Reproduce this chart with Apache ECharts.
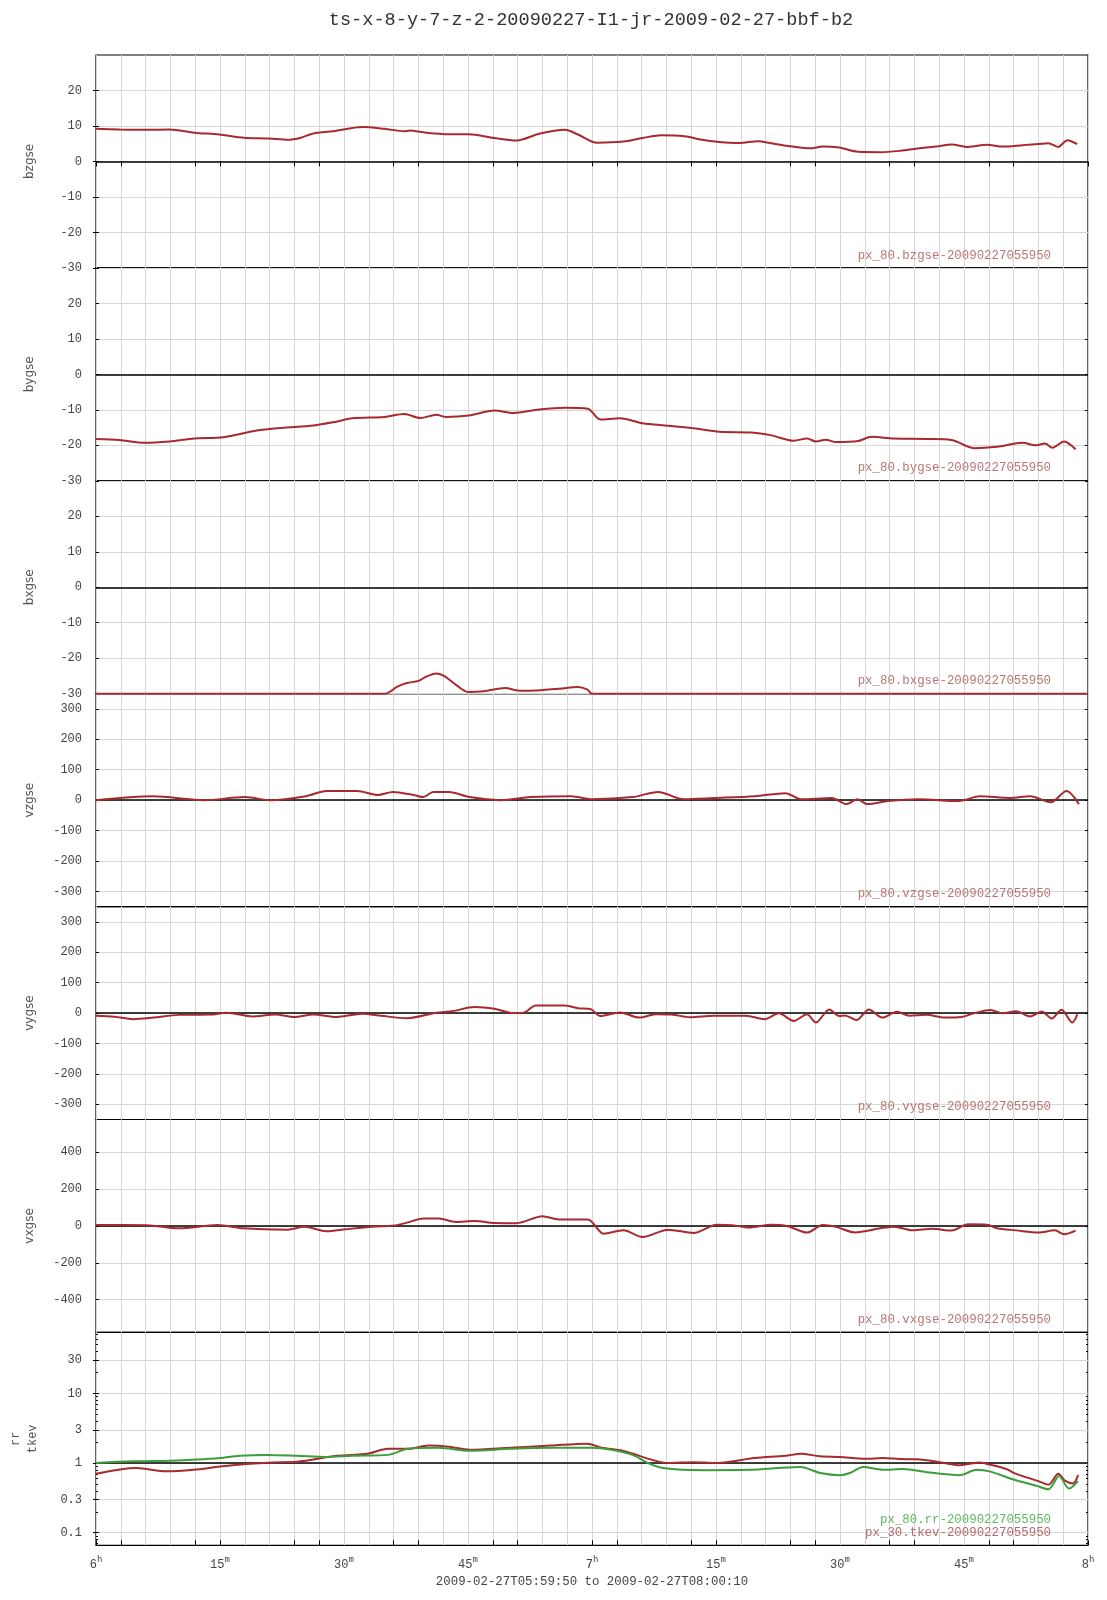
<!DOCTYPE html>
<html><head><meta charset="utf-8">
<script src="https://cdn.jsdelivr.net/npm/echarts@6/dist/echarts.min.js"></script>
<style>html,body{margin:0;padding:0;background:#fff}#c{width:1107px;height:1600px}</style>
</head><body><div id="c"></div>
<script>
// ---- data (time in minutes after 06:00 UT, 2009-02-27) ----
const bzT=[0,2.8,5.9,8.9,11.9,14.9,17.9,20.9,23.2,24.8,26.3,28.7,32.2,34.9,37.3,38.0,39.6,42.7,45.1,48.2,50.9,53.6,56.7,58.3,60.6,63.8,66.1,68.4,71.2,73.1,75.4,77.8,80.1,81.7,84.0,86.4,87.9,89.9,92.2,94.9,97.3,99.6,101.9,103.5,105.5,107.8,109.7,112.1,114.4,115.2,116.4,117.5,118.7];
const bzV=[9.2,9.0,8.9,9.0,8.1,7.6,6.7,6.5,6.1,6.7,7.9,8.5,9.7,9.2,8.5,8.7,8.2,7.7,7.7,6.6,5.9,7.8,8.9,7.6,5.3,5.6,6.6,7.4,7.1,6.2,5.5,5.2,5.7,5.1,4.3,3.7,4.2,3.9,2.7,2.6,3.0,3.7,4.3,4.8,4.1,4.7,4.2,4.6,5.0,5.1,4.1,6.0,4.9];
const byT=[0,2.8,5.9,8.9,11.9,15.4,19.3,22.4,26.3,28.7,31.0,34.9,37.3,39.2,41.2,42.3,45.1,48.2,50.5,53.6,56.7,59.5,61.0,63.4,66.1,69.2,72.3,75.4,79.3,81.7,84.4,86.0,87.1,88.3,89.5,92.2,93.8,96.5,100.4,103.5,106.2,109.0,112.1,113.6,114.8,115.7,117.1,118.5];
const byV=[-18.2,-18.5,-19.3,-18.9,-18.1,-17.7,-15.9,-15.1,-14.4,-13.5,-12.4,-12.0,-11.2,-12.3,-11.4,-12.0,-11.6,-10.2,-10.9,-9.9,-9.4,-9.7,-12.7,-12.4,-13.8,-14.5,-15.2,-16.2,-16.4,-17.2,-18.7,-18.1,-18.9,-18.4,-19.1,-18.8,-17.6,-18.1,-18.2,-18.5,-20.8,-20.4,-19.3,-20.0,-19.5,-20.7,-18.9,-21.1];
const bxT=[0,35.0,36.4,37.6,39.0,40.0,41.2,42.2,43.6,45.0,46.9,49.5,51.3,53.3,56.1,58.3,59.4,60.0,120];
const bxV=[-30,-30,-28.1,-27.0,-26.4,-25.1,-24.3,-25.1,-27.6,-29.5,-29.3,-28.4,-29.2,-29.1,-28.6,-28.1,-28.8,-30,-30];
const vzT=[0,6.9,13.1,18.0,21.1,25.4,27.9,31.6,34.1,35.9,38.4,39.6,40.8,42.7,45.2,48.9,52.6,57.5,60.0,64.9,68.0,71.1,74.8,79.7,83.4,85.3,89.0,90.8,92.1,93.3,95.8,99.5,104.4,106.9,110.6,113.0,115.5,117.4,118.9];
const vzV=[0,13,0,10,0,13,30,30,17,27,17,10,27,27,10,0,10,13,3,10,27,3,7,13,23,3,7,-13,3,-13,-3,3,-3,13,7,13,-7,30,-13];
const vyT=[0,2.2,4.5,6.9,10.0,13.9,15.8,18.9,21.7,24.0,26.3,29.1,32.2,34.5,37.6,41.2,43.1,45.8,48.2,50.5,51.7,53.2,56.7,58.3,59.9,61.0,63.4,65.7,67.7,69.6,71.9,74.7,78.6,80.9,82.6,84.4,86.0,87.1,88.7,89.9,90.6,92.0,93.5,95.1,96.9,98.4,100.4,102.7,104.7,106.2,108.2,109.7,111.3,113.0,114.4,115.6,116.8,118.1,118.7];
const vyV=[-9,-12,-20,-15,-6,-5,1,-11,-5,-13,-5,-13,-2,-9,-17,1,6,20,14,0,1,25,25,16,12,-10,2,-15,-4,-5,-14,-9,-9,-20,-1,-26,-4,-31,12,-10,-8,-23,12,-15,4,-9,-6,-15,-13,-1,10,-1,6,-11,5,-18,11,-31,-4];
const vxT=[0,6.1,10.0,14.7,17.8,23.2,25.2,27.9,30.2,33.4,36.1,37.6,39.6,41.5,43.5,45.8,48.2,50.9,54.0,56.0,59.5,61.4,63.8,66.1,69.2,72.3,75.1,77.0,79.0,81.7,83.6,86.0,87.9,89.5,91.8,94.9,96.5,98.8,101.2,103.5,105.5,107.8,109.0,111.3,114.0,116.0,117.1,118.5];
const vxV=[5,4,-13,5,-13,-20,-5,-29,-18,-4,2,18,40,40,22,27,16,15,53,35,35,-42,-24,-60,-20,-38,7,4,-9,7,0,-36,5,-5,-35,-13,-4,-24,-15,-25,9,7,-13,-24,-36,-24,-45,-25];
const rrT=[0,4.5,9,12.2,15,17.4,20.6,24.3,27.9,31,35.3,37.7,41.4,45.2,50.1,55,60,62.4,64.9,66.8,68.6,73.6,79,85.2,87.6,90,91.2,92.8,95.2,97.6,100.5,104.5,106.5,108.1,111,113.8,115.2,116.5,117.7,118.8];
const rrV=[1.0,1.06,1.08,1.12,1.18,1.27,1.31,1.27,1.22,1.27,1.31,1.6,1.66,1.5,1.6,1.66,1.66,1.55,1.31,1.0,0.85,0.79,0.8,0.88,0.72,0.67,0.72,0.88,0.80,0.82,0.74,0.67,0.80,0.76,0.58,0.47,0.42,0.65,0.43,0.55];
const tkT=[0,4.9,8.5,11.8,15,18.2,21.4,24.3,29.1,32.8,35.3,37.7,40.2,42.7,45.2,50.1,55,59.4,61.2,63.7,67.4,69.2,72.3,74.8,79.7,83.4,85.2,87.6,90,93.1,95.2,97.2,99.3,102.1,104.5,106.9,108.1,110.1,111.3,113.8,115.2,116.4,117.2,118.2,118.8];
const tkV=[0.70,0.85,0.76,0.80,0.89,0.97,1.02,1.04,1.27,1.36,1.6,1.6,1.78,1.72,1.55,1.66,1.78,1.9,1.66,1.5,1.1,1.0,1.03,1.0,1.18,1.27,1.36,1.25,1.22,1.15,1.18,1.14,1.13,1.03,0.93,1.02,0.95,0.82,0.70,0.56,0.49,0.70,0.56,0.51,0.67];

const bTicks=[-30,-20,-10,0,10,20];
const vTicks=[-300,-200,-100,0,100,200,300];
const vxTicks=[-400,-200,0,200,400];
const logTicks=[0.1,0.3,1,3,10,30];
const logMinor=[0.07,0.08,0.09,0.2,0.4,0.5,0.6,0.7,0.8,0.9,2,4,5,6,7,8,9,20,40,50,60,70];
const xLabelVals=[0,15,30,45,60,75,90,105,120];
const xTickMarks=[0,3,12,15,24,27,36,39,48,51,60,63,72,75,84,87,96,99,108,111,120];

const TITLE='ts-x-8-y-7-z-2-20090227-I1-jr-2009-02-27-bbf-b2';
const SUBTITLE='2009-02-27T05:59:50 to 2009-02-27T08:00:10';

const RED='#a8292e', GREEN='#3b9e3b';
const panels=[
 {name:'bzgse',type:'value',min:-30,max:30,ticks:bTicks,zero:0,tags:[['px_80.bzgse-20090227055950','#b97575']],series:[[bzT,bzV,RED]]},
 {name:'bygse',type:'value',min:-30,max:30,ticks:bTicks,zero:0,tags:[['px_80.bygse-20090227055950','#b97575']],series:[[byT,byV,RED]]},
 {name:'bxgse',type:'value',min:-30,max:30,ticks:bTicks,zero:0,tags:[['px_80.bxgse-20090227055950','#b97575']],series:[[bxT,bxV,RED]]},
 {name:'vzgse',type:'value',min:-350,max:350,ticks:vTicks,zero:0,tags:[['px_80.vzgse-20090227055950','#b97575']],series:[[vzT,vzV,RED]]},
 {name:'vygse',type:'value',min:-350,max:350,ticks:vTicks,zero:0,tags:[['px_80.vygse-20090227055950','#b97575']],series:[[vyT,vyV,RED]]},
 {name:'vxgse',type:'value',min:-578,max:578,ticks:vxTicks,zero:0,tags:[['px_80.vxgse-20090227055950','#b97575']],series:[[vxT,vxV,RED]]},
 {name:'rr\ntkev',type:'log',min:0.066,max:75,ticks:logTicks,zero:1,tags:[['px_80.rr-20090227055950','#5fb85f'],['px_30.tkev-20090227055950','#b56a6a']],series:[[tkT,tkV,RED],[rrT,rrV,GREEN]]}
];

const TOP=55, PH=212.9, LEFT=96, PW=992;
const MONO='"Liberation Mono","DejaVu Sans Mono",monospace';
const grids=[],xAxes=[],yAxes=[],series=[],graphics=[];
panels.forEach((p,i)=>{
  const top=TOP+i*PH;
  grids.push({left:LEFT,top:top,width:PW,height:PH,show:true,borderColor:'#000',borderWidth:1.2,backgroundColor:'transparent',outerBoundsMode:'none',containLabel:false});
  const last=i===panels.length-1;
  xAxes.push({type:'value',gridIndex:i,min:0,max:120,interval:3,
    axisLine:{show:false},axisTick:{show:false},
    splitLine:{show:true,lineStyle:{color:'#d6d6d6',width:1}},
    axisLabel:last?{show:true,customValues:xLabelVals,margin:10,
      formatter:v=>{const h=v===0?6:(v===60?7:(v===120?8:null));return h!==null?'{n|'+h+'}{s|h}':'{n|'+(v%60)+'}{s|m}';},
      rich:{n:{fontFamily:MONO,fontSize:12,color:'#444',lineHeight:16,verticalAlign:'bottom'},s:{fontFamily:MONO,fontSize:9,color:'#444',lineHeight:16,verticalAlign:'top'}}}:{show:false}
  });
  yAxes.push({type:p.type,gridIndex:i,min:p.min,max:p.max,logBase:10,position:'left',
    name:p.name,nameLocation:'middle',nameRotate:90,nameGap:last?55:58,
    nameTextStyle:{fontFamily:last?MONO:'"DejaVu Sans",sans-serif',fontSize:12,color:'#555',lineHeight:17},
    axisLine:{show:false},
    axisTick:{show:true,inside:true,length:3,customValues:p.ticks,lineStyle:{color:'#000'}},
    axisLabel:{show:true,customValues:p.ticks,margin:14,fontFamily:MONO,fontSize:12,color:'#444'},
    splitLine:{show:true,lineStyle:{color:'#d6d6d6',width:1}}
  });
  p.series.forEach((s,k)=>{
    const d=s[0].map((t,j)=>[t,s[1][j]]);
    const o={type:'line',xAxisIndex:i,yAxisIndex:i,data:d,showSymbol:false,smooth:0.3,clip:true,
      lineStyle:{color:s[2],width:2},itemStyle:{color:s[2]},animation:false,silent:true,z:3};
    if(k===0){o.markLine={silent:true,symbol:'none',animation:false,label:{show:false},
      lineStyle:{color:'#000',width:1.5,type:'solid'},data:[{yAxis:p.zero}],z:2};}
    series.push(o);
  });
  const bottom=top+PH;
  p.tags.forEach((tg,k)=>{
    graphics.push({type:'text',x:1051,y:bottom-12.6-(p.tags.length-1-k)*13,z:10,
      style:{text:tg[0],fill:tg[1],font:'12.4px '+MONO,textAlign:'right',textVerticalAlign:'middle'}});
  });
});
// right-side tick marks (and log minor ticks on both sides)
panels.forEach((p,i)=>{
  yAxes.push({type:p.type,gridIndex:i,min:p.min,max:p.max,logBase:10,position:'right',
    axisLine:{show:false},axisLabel:{show:false},splitLine:{show:false},
    axisTick:{show:true,inside:true,length:3,customValues:p.ticks,lineStyle:{color:'#000'}}});
});
['left','right'].forEach(pos=>{
  const p=panels[6];
  yAxes.push({type:'log',gridIndex:6,min:p.min,max:p.max,logBase:10,position:pos,
    axisLine:{show:false},axisLabel:{show:false},splitLine:{show:false},
    axisTick:{show:true,inside:true,length:2,customValues:logMinor,lineStyle:{color:'#000'}}});
});
// tick marks along top of first panel and bottom of last panel
[[0,'top'],[panels.length-1,'bottom']].forEach(([g,pos])=>{
  xAxes.push({type:'value',gridIndex:g,position:pos,min:0,max:120,
    axisLine:{show:false},splitLine:{show:false},axisLabel:{show:false},
    axisTick:{show:true,inside:true,length:5,customValues:xTickMarks,lineStyle:{color:'#000',width:1}}});
});
graphics.push({type:'text',x:LEFT+PW/2,y:1582,style:{text:SUBTITLE,fill:'#444',font:'12.4px '+MONO,textAlign:'center',textVerticalAlign:'middle'}});

const chart=echarts.init(document.getElementById('c'),null,{renderer:'canvas'});
chart.setOption({
  animation:false,
  backgroundColor:'#fff',
  title:{text:TITLE,left:586,top:6,textAlign:'center',textStyle:{fontFamily:MONO,fontSize:18.6,fontWeight:'normal',color:'#333'}},
  grid:grids,xAxis:xAxes,yAxis:yAxes,series:series,graphic:graphics
});
</script></body></html>
